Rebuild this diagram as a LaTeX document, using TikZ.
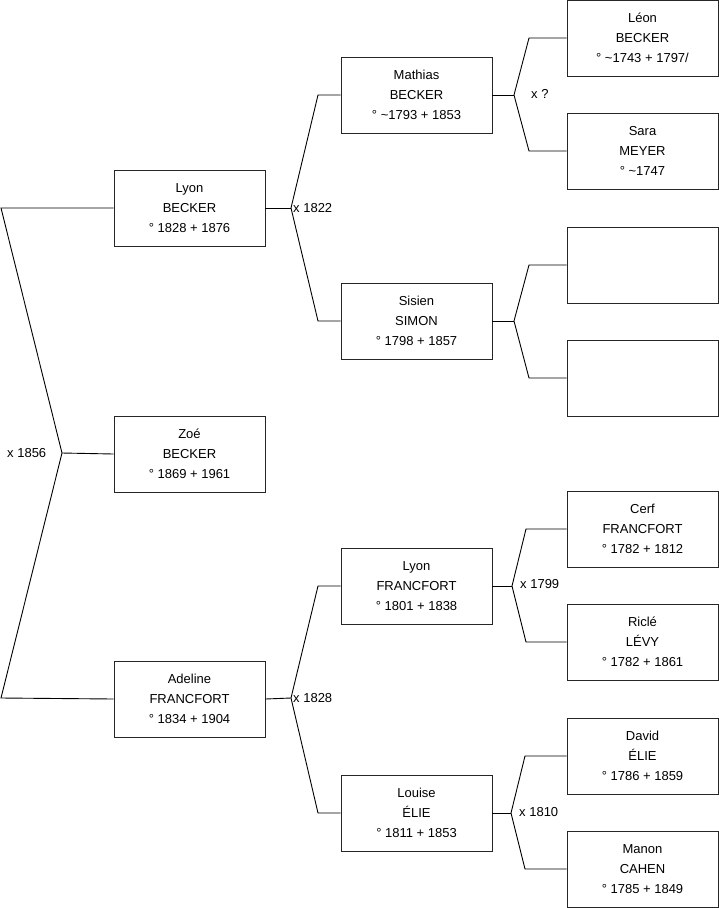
\documentclass[tikz,border=0pt]{standalone}
\usepackage{fontspec}
\setmainfont{Liberation Sans}
\begin{document}
\begin{tikzpicture}[x=1pt,y=-1pt,
  person/.style={draw=black!85, line width=0.9pt, minimum width=151pt, minimum height=76pt, inner sep=0pt, align=center, font=\fontsize{13}{20}\selectfont},
  lbl/.style={anchor=west, inner sep=1pt, font=\fontsize{13}{15}\selectfont},
  link/.style={draw=black, line width=0.9pt}]
\useasboundingbox (0,0) rectangle (719,908);
% generation 1
\node[person] (lyonb) at (189.5,208) {Lyon\\BECKER\\° 1828 + 1876};
\node[person] (zoe) at (189.5,454) {Zoé\\BECKER\\° 1869 + 1961};
\node[person] (adeline) at (189.5,699) {Adeline\\FRANCFORT\\° 1834 + 1904};
% generation 2
\node[person] (mathias) at (416.5,95) {Mathias\\BECKER\\° \textasciitilde1793 + 1853};
\node[person] (sisien) at (416.5,321) {Sisien\\SIMON\\° 1798 + 1857};
\node[person] (lyonf) at (416.5,586) {Lyon\\FRANCFORT\\° 1801 + 1838};
\node[person] (louise) at (416.5,813) {Louise\\ÉLIE\\° 1811 + 1853};
% generation 3
\node[person] (leon) at (642.5,38) {Léon\\BECKER\\° \textasciitilde1743 + 1797/};
\node[person] (sara) at (642.5,151) {Sara\\MEYER\\° \textasciitilde1747};
\node[person] (e1) at (642.5,265) {};
\node[person] (e2) at (642.5,378) {};
\node[person] (cerf) at (642.5,529) {Cerf\\FRANCFORT\\° 1782 + 1812};
\node[person] (ricle) at (642.5,642) {Riclé\\LÉVY\\° 1782 + 1861};
\node[person] (david) at (642.5,756) {David\\ÉLIE\\° 1786 + 1859};
\node[person] (manon) at (642.5,869) {Manon\\CAHEN\\° 1785 + 1849};
% fork points
\coordinate (v0) at (62,453);
\coordinate (v0a) at (1,208);
\coordinate (v0b) at (1,698);
\coordinate (v1) at (291,208);
\coordinate (v1a) at (318,95);
\coordinate (v1b) at (318,321);
\coordinate (v2) at (291,698);
\coordinate (v2a) at (318,586);
\coordinate (v2b) at (318,813);
\coordinate (v3) at (514,95);
\coordinate (v3a) at (529,38);
\coordinate (v3b) at (529,151);
\coordinate (v4) at (514,321);
\coordinate (v4a) at (529,265);
\coordinate (v4b) at (529,378);
\coordinate (v5) at (512,586);
\coordinate (v5a) at (526,529);
\coordinate (v5b) at (526,642);
\coordinate (v6) at (511,813);
\coordinate (v6a) at (525,756);
\coordinate (v6b) at (525,869);
% connectors
\draw[link] (lyonb.west) -- (v0a) -- (v0) -- (v0b) -- (adeline.west);
\draw[link] (v0) -- (zoe.west);
\draw[link] (lyonb.east) -- (v1);
\draw[link] (mathias.west) -- (v1a) -- (v1) -- (v1b) -- (sisien.west);
\draw[link] (adeline.east) -- (v2);
\draw[link] (lyonf.west) -- (v2a) -- (v2) -- (v2b) -- (louise.west);
\draw[link] (mathias.east) -- (v3);
\draw[link] (leon.west) -- (v3a) -- (v3) -- (v3b) -- (sara.west);
\draw[link] (sisien.east) -- (v4);
\draw[link] (e1.west) -- (v4a) -- (v4) -- (v4b) -- (e2.west);
\draw[link] (lyonf.east) -- (v5);
\draw[link] (cerf.west) -- (v5a) -- (v5) -- (v5b) -- (ricle.west);
\draw[link] (louise.east) -- (v6);
\draw[link] (david.west) -- (v6a) -- (v6) -- (v6b) -- (manon.west);
% labels
\node[lbl] (m0) at (6,453) {x 1856};
\node[lbl] (m1) at (292,208) {x 1822};
\node[lbl] (m2) at (292,698) {x 1828};
\node[lbl] (m3) at (530,94) {x ?};
\node[lbl] (m5) at (519,584) {x 1799};
\node[lbl] (m6) at (518,812) {x 1810};
\end{tikzpicture}
\end{document}
